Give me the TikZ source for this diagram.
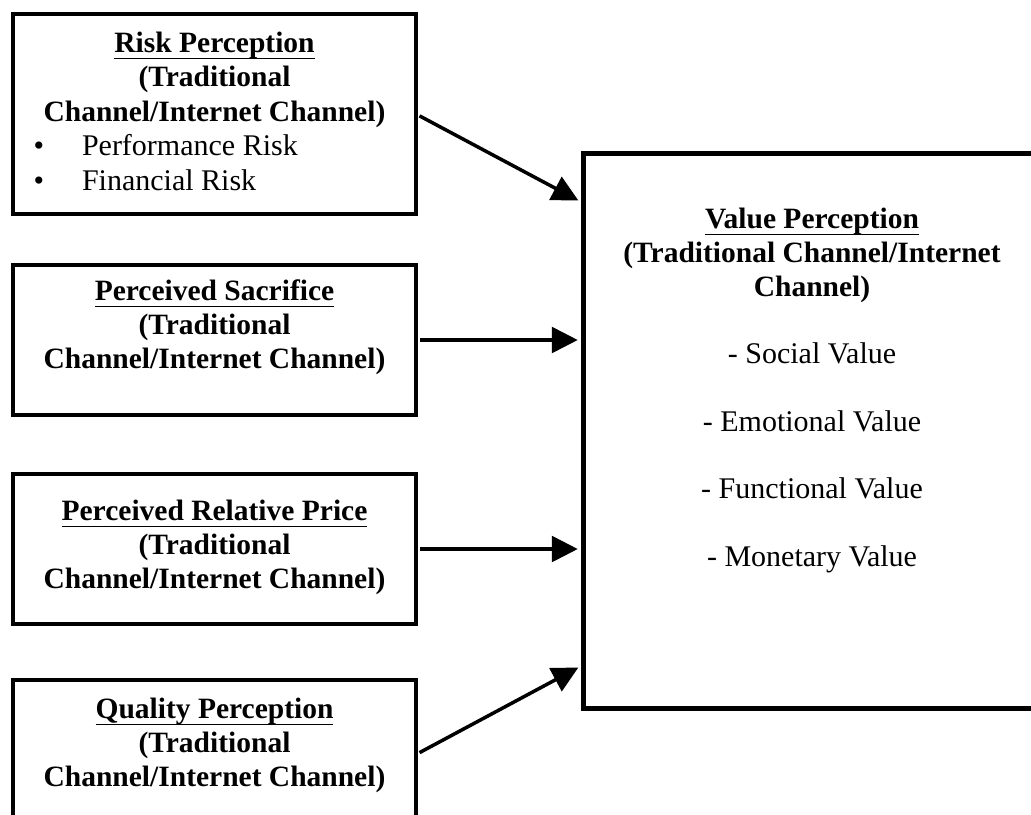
\documentclass[tikz,border=0pt]{standalone}
\usepackage{fontspec}
\setmainfont{Liberation Serif}
\usetikzlibrary{arrows.meta,calc}
% underline at a fixed distance below the baseline
\newcommand\ulbox[1]{\setbox0\hbox{#1}\rlap{\vrule width\wd0 height -2.3pt depth 2.9pt}\box0}
\begin{document}
\begin{tikzpicture}[x=0.4pt,y=-0.4pt,
  every node/.style={font=\fontsize{12}{14}\selectfont, inner sep=0pt, outer sep=0pt},
  sidebox/.style={draw, line width=1.6pt, minimum width=403*0.4pt, minimum height=150*0.4pt},
  mainbox/.style={draw, line width=2pt},
  hd/.style={anchor=base, font=\fontsize{11.8}{14}\selectfont\bfseries},
  item/.style={anchor=base},
  bul/.style={anchor=base},
  flow/.style={line width=1.4pt, -{Triangle[length=10.4pt,width=10.3pt]}, shorten <=1.6pt, shorten >=2.1pt}
]
\useasboundingbox (0,0) rectangle (1031,814);
\clip (0,0) rectangle (1031,814);

% input boxes
\node[sidebox, minimum height=200*0.4pt] (b1) at (214.5,114) {};
\node[sidebox] (b2) at (214.5,340) {};
\node[sidebox] (b3) at (214.5,549) {};
\node[sidebox] (b4) at (214.5,754.5) {};

% outcome box
\node[mainbox, minimum width=459*0.4pt, minimum height=555*0.4pt] (vp) at (812.5,430.5) {};

% risk perception
\node[hd] (b1l1) at (214.5,52) {\ulbox{Risk Perception}};
\node[hd] (b1l2) at (214.5,86.5) {(Traditional};
\node[hd] (b1l3) at (214.5,121) {Channel/Internet Channel)};
\node[bul] (b1d1) at (39,155.5) {•};
\node[item, anchor=base west] (b1i1) at (82,155.5) {Performance Risk};
\node[bul] (b1d2) at (39,190) {•};
\node[item, anchor=base west] (b1i2) at (82,190) {Financial Risk};

% perceived sacrifice
\node[hd] (b2l1) at (214.5,300) {\ulbox{Perceived Sacrifice}};
\node[hd] (b2l2) at (214.5,334) {(Traditional};
\node[hd] (b2l3) at (214.5,368) {Channel/Internet Channel)};

% perceived relative price
\node[hd] (b3l1) at (214.5,520) {\ulbox{Perceived Relative Price}};
\node[hd] (b3l2) at (214.5,554) {(Traditional};
\node[hd] (b3l3) at (214.5,588) {Channel/Internet Channel)};

% quality perception
\node[hd] (b4l1) at (214.5,718) {\ulbox{Quality Perception}};
\node[hd] (b4l2) at (214.5,752) {(Traditional};
\node[hd] (b4l3) at (214.5,786) {Channel/Internet Channel)};

% value perception
\node[hd] (vl1) at (812,228) {\ulbox{Value Perception}};
\node[hd] (vl2) at (812,262) {(Traditional Channel/Internet};
\node[hd] (vl3) at (812,296) {Channel)};
\node[item] (v1) at (812,363) {- Social Value};
\node[item] (v2) at (812,431) {- Emotional Value};
\node[item] (v3) at (812,498.5) {- Functional Value};
\node[item] (v4) at (812,566) {- Monetary Value};

% arrow targets on the left side of the outcome box
\coordinate (t1) at ($(vp.north west)+(0,50)$);
\coordinate (t4) at ($(vp.north west)+(0,512)$);

\draw[flow] (b1.east) -- (t1);
\draw[flow] (b2.east) -- (vp.west |- b2.east);
\draw[flow] (b3.east) -- (vp.west |- b3.east);
\draw[flow] (b4.east) -- (t4);
\end{tikzpicture}
\end{document}
